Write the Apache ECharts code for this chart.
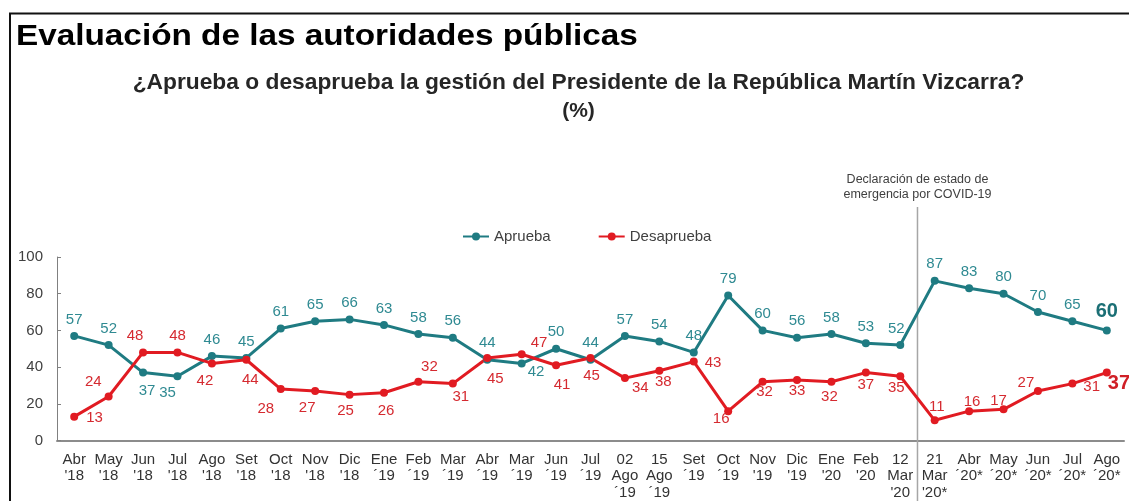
<!DOCTYPE html>
<html>
<head>
<meta charset="utf-8">
<script src="https://cdn.jsdelivr.net/npm/echarts@6/dist/echarts.min.js"></script>
<style>
  html, body { margin: 0; padding: 0; background: #fff; }
  #chart { width: 1129px; height: 501px; }
</style>
</head>
<body>
<div id="chart"></div>
<script>
// Survey months (two or three label lines each)
const categories = [
  "Abr\n'18", "May\n'18", "Jun\n'18", "Jul\n'18", "Ago\n'18", "Set\n'18",
  "Oct\n'18", "Nov\n'18", "Dic\n'18", "Ene\n´19", "Feb\n´19", "Mar\n´19",
  "Abr\n´19", "Mar\n´19", "Jun\n´19", "Jul\n´19", "02\nAgo\n´19", "15\nAgo\n´19",
  "Set\n´19", "Oct\n´19", "Nov\n'19", "Dic\n'19", "Ene\n'20", "Feb\n'20",
  "12\nMar\n'20", "21\nMar\n'20*", "Abr\n´20*", "May\n´20*", "Jun\n´20*",
  "Jul\n´20*", "Ago\n´20*"
];

const aprueba = [57, 52, 37, 35, 46, 45, 61, 65, 66, 63, 58, 56, 44, 42, 50, 44,
  57, 54, 48, 79, 60, 56, 58, 53, 52, 87, 83, 80, 70, 65, 60];

const desaprueba = [13, 24, 48, 48, 42, 44, 28, 27, 25, 26, 32, 31, 45, 47, 41, 45,
  34, 38, 43, 16, 32, 33, 32, 37, 35, 11, 16, 17, 27, 31, 37];

const yTicks = [0, 20, 40, 60, 80, 100];

// Index of the last survey before the COVID-19 state of emergency
const emergencyAfterIndex = 24;

// Label placement per point: [position, dx, dy]
const apruebaLabelPos = {
  2: ['bottom', 4, 2], 3: ['bottom', -10, 0], 13: ['right', -3, 8], 24: ['top', -4, 0]
};
const desapruebaLabelPos = {
  0: ['right', 3, 1], 1: ['left', 2, -15], 2: ['top', -8, 0], 3: ['top', 0, 0],
  4: ['bottom', -7, 1], 5: ['bottom', 4, 4], 6: ['bottom', -15, 3], 7: ['bottom', -8, 0],
  8: ['bottom', -4, 0], 9: ['bottom', 2, 2], 10: ['top', 11, 2], 11: ['bottom', 8, -3],
  12: ['bottom', 8, 4], 13: ['right', 0, -11], 14: ['bottom', 6, 3], 15: ['bottom', 1, 1],
  16: ['right', -2, 10], 17: ['bottom', 4, -5], 18: ['right', 2, 1], 19: ['bottom', -7, -9],
  20: ['bottom', 2, -6], 21: ['bottom', 0, -6], 22: ['bottom', -2, -1], 23: ['bottom', 0, -4],
  24: ['bottom', -4, -5], 25: ['top', 2, 3], 26: ['top', 3, 7], 27: ['top', -5, 8],
  28: ['top', -12, 8], 29: ['right', 2, 3], 30: ['right', -8, 11]
};

const FONT = "'Liberation Sans', Arial, Helvetica, sans-serif";
const TEAL = '#1f7b82';
const TEAL_LABEL = '#2f8a92';
const RED = '#e11b22';
const RED_LABEL = '#d52a30';

function buildData(values, placements, defaultPos, emphColor) {
  const last = values.length - 1;
  return values.map((v, i) => {
    const p = placements[i] || [defaultPos, 0, 0];
    const label = { position: p[0], offset: [p[1], p[2]] };
    if (i === last) {
      label.fontSize = 20;
      label.fontWeight = 'bold';
      label.color = emphColor;
    }
    return { value: v, label };
  });
}

const chart = echarts.init(document.getElementById('chart'), null, { renderer: 'canvas' });

chart.setOption({
  animation: false,
  backgroundColor: '#ffffff',
  textStyle: { fontFamily: FONT },
  grid: { left: 57, right: 5, top: 257, bottom: 59.5, containLabel: false },
  legend: {
    data: ['Aprueba', 'Desaprueba'],
    left: 462,
    top: 229,
    padding: 0,
    itemWidth: 26,
    itemHeight: 10,
    itemGap: 47,
    textStyle: { fontSize: 15, color: '#404040', fontFamily: FONT }
  },
  xAxis: {
    type: 'category',
    data: categories,
    boundaryGap: true,
    axisLine: { show: true, lineStyle: { color: '#8c8c8c', width: 2 } },
    axisTick: { show: false },
    axisLabel: {
      interval: 0,
      margin: 11,
      fontSize: 15,
      lineHeight: 16.5,
      color: '#333333',
      fontFamily: FONT
    },
    splitLine: { show: false }
  },
  yAxis: {
    type: 'value',
    min: yTicks[0],
    max: yTicks[yTicks.length - 1],
    interval: yTicks[1] - yTicks[0],
    axisLine: { show: true, lineStyle: { color: '#808080', width: 1 } },
    axisTick: { show: true, inside: true, length: 4, lineStyle: { color: '#808080' } },
    axisLabel: { fontSize: 15, color: '#404040', margin: 14, fontFamily: FONT },
    splitLine: { show: false }
  },
  series: [
    {
      name: 'Aprueba',
      type: 'line',
      data: buildData(aprueba, apruebaLabelPos, 'top', '#1b6f75'),
      symbol: 'circle',
      symbolSize: 8,
      lineStyle: { color: TEAL, width: 3 },
      itemStyle: { color: TEAL },
      label: { show: true, fontSize: 15, color: TEAL_LABEL, fontFamily: FONT, distance: 5 },
      z: 3
    },
    {
      name: 'Desaprueba',
      type: 'line',
      data: buildData(desaprueba, desapruebaLabelPos, 'bottom', '#d01f26'),
      symbol: 'circle',
      symbolSize: 8,
      lineStyle: { color: RED, width: 3 },
      itemStyle: { color: RED },
      label: { show: true, fontSize: 15, color: RED_LABEL, fontFamily: FONT, distance: 5 },
      z: 3
    }
  ]
});

// Emergency-declaration divider sits halfway between the two surveys around it
const xBefore = chart.convertToPixel({ xAxisIndex: 0 }, emergencyAfterIndex);
const xAfter = chart.convertToPixel({ xAxisIndex: 0 }, emergencyAfterIndex + 1);
const xDivider = (xBefore + xAfter) / 2;

chart.setOption({
  graphic: [
    // frame
    { type: 'line', shape: { x1: 10, y1: 13, x2: 10, y2: 501 },
      style: { stroke: '#111', lineWidth: 2 }, silent: true },
    { type: 'line', shape: { x1: 9, y1: 13.5, x2: 1129, y2: 13.5 },
      style: { stroke: '#111', lineWidth: 2 }, silent: true },
    // headings
    { type: 'text', x: 16, y: 37, scaleX: 1.11,
      style: { text: 'Evaluación de las autoridades públicas', fill: '#000',
        fontSize: 30, fontWeight: 'bold', fontFamily: FONT,
        textAlign: 'left', textVerticalAlign: 'middle' } },
    { type: 'text', x: 578.5, y: 83, scaleX: 1.035,
      style: { text: '¿Aprueba o desaprueba la gestión del Presidente de la República Martín Vizcarra?',
        fill: '#262626', fontSize: 22, fontWeight: 'bold', fontFamily: FONT,
        textAlign: 'center', textVerticalAlign: 'middle' } },
    { type: 'text', x: 578.5, y: 111,
      style: { text: '(%)', fill: '#262626', fontSize: 21, fontWeight: 'bold', fontFamily: FONT,
        textAlign: 'center', textVerticalAlign: 'middle' } },
    // COVID-19 divider and note
    { type: 'line', shape: { x1: xDivider, y1: 207, x2: xDivider, y2: 501 },
      style: { stroke: '#a6a6a6', lineWidth: 1.5 }, silent: true, z: 1 },
    { type: 'text', x: xDivider, y: 180,
      style: { text: 'Declaración de estado de', fill: '#404040', fontSize: 12.5, fontFamily: FONT,
        textAlign: 'center', textVerticalAlign: 'middle' } },
    { type: 'text', x: xDivider, y: 195,
      style: { text: 'emergencia por COVID-19', fill: '#404040', fontSize: 12.5, fontFamily: FONT,
        textAlign: 'center', textVerticalAlign: 'middle' } }
  ]
});
</script>
</body>
</html>
